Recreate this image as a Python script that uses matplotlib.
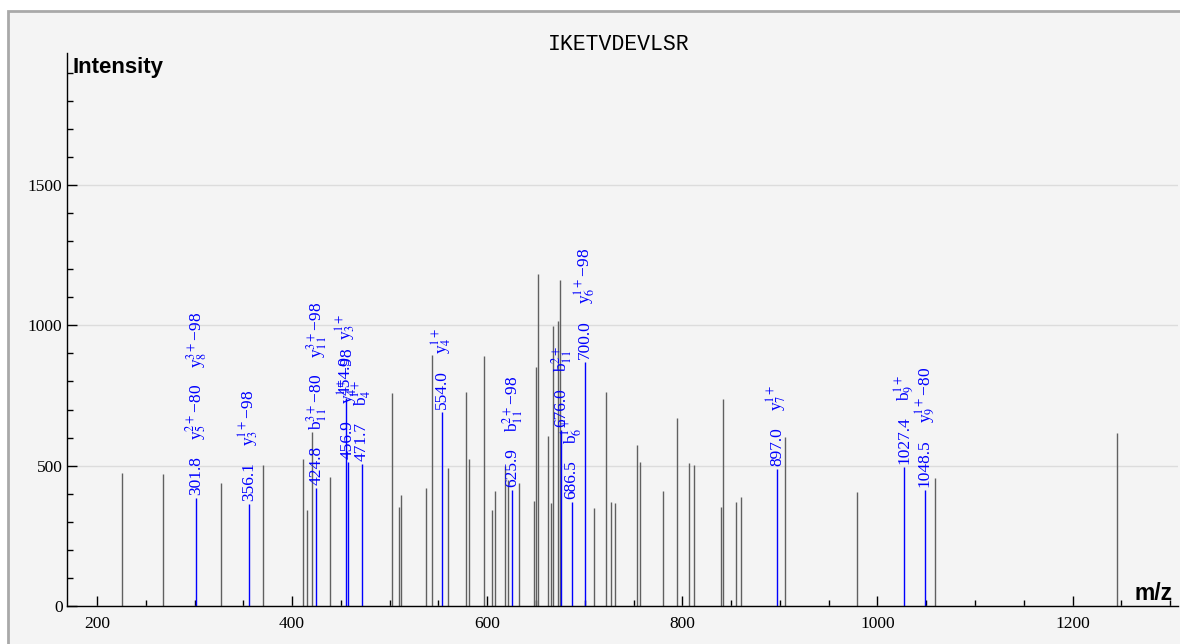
import matplotlib
matplotlib.use("Agg")
import matplotlib.pyplot as plt
from matplotlib.patches import Rectangle
from matplotlib.ticker import MultipleLocator

# 字型設定：刻度與標註用襯線字體
plt.rcParams['font.family'] = ['Liberation Serif', 'DejaVu Serif']
plt.rcParams['mathtext.fontset'] = 'stix'
plt.rcParams['axes.unicode_minus'] = False

# -----------------------------
# 資料：未標註的譜峰 (m/z, 強度)
# -----------------------------
title = "IKETVDEVLSR"

peak_mz = [226.0, 268.0, 327.2, 370.5, 410.9, 414.8, 420.7, 438.5, 502.7, 509.5,
           511.9, 537.5, 543.0, 560.2, 577.9, 581.2, 596.3, 605.1, 608.4, 618.1,
           620.9, 632.5, 648.2, 649.9, 652.0, 661.9, 665.3, 667.3, 672.7, 674.5,
           709.0, 722.1, 726.7, 731.1, 753.1, 756.8, 780.3, 794.4, 806.4, 811.5,
           839.1, 841.5, 854.8, 859.6, 905.3, 979.5, 1058.7, 1245.2]
peak_int = [474, 469, 437, 502, 522, 342, 621, 459, 760, 352,
            396, 422, 895, 491, 764, 523, 889, 342, 410, 497,
            450, 437, 374, 850, 1183, 607, 367, 998, 1014, 1162,
            350, 764, 370, 366, 574, 512, 410, 670, 508, 501,
            354, 738, 371, 390, 601, 405, 456, 615]

# -----------------------------
# 已標註的碎片離子
# -----------------------------
ion_mz = [301.8, 356.1, 424.8, 454.9, 456.9, 471.7, 554.0, 625.9, 676.0, 686.5,
          700.0, 897.0, 1027.4, 1048.5]
ion_int = [384, 363, 420, 740, 513, 506, 692, 413, 627, 372,
           871, 489, 494, 413]
ion_labels = [
    [r"y$_{5}^{2+}$−80", r"y$_{8}^{3+}$−98"],
    [r"y$_{3}^{1+}$−98"],
    [r"b$_{11}^{3+}$−80", r"y$_{11}^{3+}$−98"],
    [r"y$_{3}^{1+}$"],
    [r"y$_{4}^{1+}$−98"],
    [r"b$_{4}^{1+}$"],
    [r"y$_{4}^{1+}$"],
    [r"b$_{11}^{2+}$−98"],
    [r"b$_{11}^{2+}$"],
    [r"b$_{6}^{1+}$"],
    [r"y$_{6}^{1+}$−98"],
    [r"y$_{7}^{1+}$"],
    [r"b$_{9}^{1+}$"],
    [r"y$_{9}^{1+}$−80"],
]

# -----------------------------
# 繪圖
# -----------------------------
fig = plt.figure(figsize=(11.8, 6.44), dpi=100)
fig.patch.set_facecolor('white')

# 灰色底框
frame = Rectangle((8 / 1180, -0.05), 1.2, 1 - 11 / 644 + 0.05,
                  transform=fig.transFigure, facecolor='#f4f4f4',
                  edgecolor='#a9a9a9', linewidth=2, zorder=-10)
fig.add_artist(frame)

ax = fig.add_axes([66.7 / 1180, 38 / 644, (1178 - 66.7) / 1180, (606 - 53) / 644])
ax.set_facecolor('none')

ax.vlines(peak_mz, 0, peak_int, color='#606060', linewidth=1)
ax.vlines(ion_mz, 0, ion_int, color='blue', linewidth=1)

ax.set_xlim(169, 1308)
ax.set_ylim(0, 1970)

for side in ['top', 'right']:
    ax.spines[side].set_visible(False)
for side in ['left', 'bottom']:
    ax.spines[side].set_linewidth(1)

ax.xaxis.set_major_locator(MultipleLocator(200))
ax.xaxis.set_minor_locator(MultipleLocator(50))
ax.yaxis.set_major_locator(MultipleLocator(500))
ax.yaxis.set_minor_locator(MultipleLocator(100))
ax.tick_params(which='both', direction='in', width=1, labelsize=12.5)
ax.tick_params(which='major', length=7.5)
ax.tick_params(which='minor', length=4.5)
ax.tick_params(axis='x', pad=7)
ax.tick_params(axis='y', pad=3)

ax.yaxis.grid(True, color='#dcdcdc', linewidth=1)
ax.set_axisbelow(True)

# 標註：m/z 數值在下，離子名稱往上堆疊
renderer = fig.canvas.get_renderer()
for mz, h, labs in zip(ion_mz, ion_int, ion_labels):
    off = 3
    for s in [f"{mz:.1f}"] + labs:
        t = ax.annotate(s, xy=(mz, h), xytext=(0, off), textcoords='offset pixels',
                        rotation=90, ha='center', va='bottom', color='blue',
                        fontsize=12.5)
        bb = t.get_window_extent(renderer)
        off += bb.height + 16

fig.text(619 / 1180, 1 - 44 / 644, title, ha='center', va='center',
         family=['Liberation Mono', 'DejaVu Sans Mono'], fontsize=15.5)
fig.text(73 / 1180, 1 - 68 / 644, 'Intensity', ha='left', va='center',
         family=['Liberation Sans', 'DejaVu Sans'], fontweight='bold', fontsize=16)
fig.text(1173 / 1180, 1 - 594 / 644, 'm/z', ha='right', va='center',
         family=['Liberation Sans', 'DejaVu Sans'], fontweight='bold', fontsize=16.5)

fig.savefig('out.png', dpi=100)
